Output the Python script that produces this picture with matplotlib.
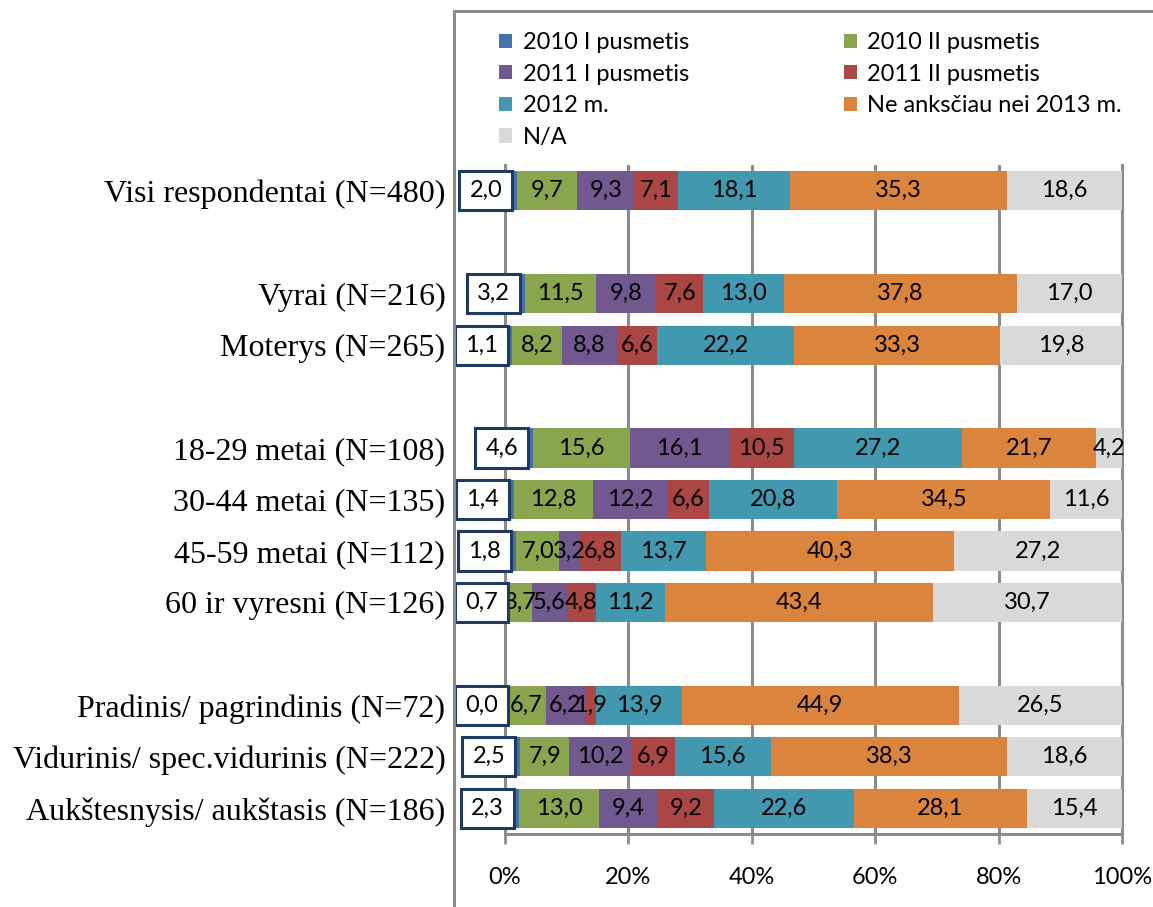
import matplotlib
matplotlib.use('Agg')
import matplotlib.pyplot as plt
from matplotlib.patches import Rectangle
from matplotlib.lines import Line2D
import numpy as np

categories = ["Visi respondentai (N=480)",
              "Vyrai (N=216)",
              "Moterys (N=265)",
              "18-29 metai (N=108)",
              "30-44 metai (N=135)",
              "45-59 metai (N=112)",
              "60 ir vyresni (N=126)",
              "Pradinis/ pagrindinis (N=72)",
              "Vidurinis/ spec.vidurinis (N=222)",
              "Aukštesnysis/ aukštasis (N=186)"]

series_names = ["2010 I pusmetis", "2010 II pusmetis", "2011 I pusmetis",
                "2011 II pusmetis", "2012 m.", "Ne anksčiau nei 2013 m.", "N/A"]

s2010_1 = [2.0, 3.2, 1.1, 4.6, 1.4, 1.8, 0.7, 0.0, 2.5, 2.3]
s2010_2 = [9.7, 11.5, 8.2, 15.6, 12.8, 7.0, 3.7, 6.7, 7.9, 13.0]
s2011_1 = [9.3, 9.8, 8.8, 16.1, 12.2, 3.2, 5.6, 6.2, 10.2, 9.4]
s2011_2 = [7.1, 7.6, 6.6, 10.5, 6.6, 6.8, 4.8, 1.9, 6.9, 9.2]
s2012 = [18.1, 13.0, 22.2, 27.2, 20.8, 13.7, 11.2, 13.9, 15.6, 22.6]
s2013 = [35.3, 37.8, 33.3, 21.7, 34.5, 40.3, 43.4, 44.9, 38.3, 28.1]
s_na = [18.6, 17.0, 19.8, 4.2, 11.6, 27.2, 30.7, 26.5, 18.6, 15.4]

colors = ["#4572A7", "#89A54E", "#71588F", "#AA4643", "#4198AF", "#DB843D", "#D9D9D9"]

# layout: slot of each row (blank slots separate the groups), 13 slots total
row_slot = [0, 2, 3, 5, 6, 7, 8, 10, 11, 12]
n_slots = 13

plt.rcParams['font.family'] = ['Lato', 'DejaVu Sans']
FS = 17

W, H = 1153, 907
fig = plt.figure(figsize=(W / 100, H / 100), dpi=100)
ax = fig.add_axes([505 / W, (H - 834) / H, (1122 - 505) / W, (834 - 165) / H])

data = np.array([s2010_1, s2010_2, s2011_1, s2011_2, s2012, s2013, s_na])
frac = data / data.sum(axis=0)
ypos = np.array(row_slot)
bar_h = 0.76

left = np.zeros(len(categories))
for i in range(len(series_names)):
    ax.barh(ypos, frac[i], left=left, height=bar_h, color=colors[i],
            label=series_names[i], zorder=3)
    if i > 0:
        for j in range(len(categories)):
            ax.text(left[j] + frac[i][j] / 2, ypos[j],
                    ("%.1f" % data[i][j]).replace(".", ","),
                    ha='center', va='center', fontsize=FS, color='black',
                    zorder=5, clip_on=False)
    left += frac[i]

# boxed labels for the first series
px = 1.0 / (1122 - 505)
box_w = 53 * px
for j in range(len(categories)):
    right = frac[0][j] - 5 * px
    bl = max(right - box_w, -50 * px)
    ax.add_patch(Rectangle((bl, ypos[j] - bar_h / 2), box_w, bar_h,
                           facecolor='white', edgecolor='#1F3B63', lw=2.2,
                           zorder=6, clip_on=False))
    ax.text(bl + box_w / 2, ypos[j], ("%.1f" % data[0][j]).replace(".", ","),
            ha='center', va='center', fontsize=FS, zorder=7, clip_on=False)

ax.set_xlim(0, 1)
ax.set_ylim(n_slots - 0.5, -0.5)
ax.set_yticks(ypos)
ax.set_yticklabels(categories, family='Liberation Serif', fontsize=23)
ax.set_xticks(np.arange(0, 1.01, 0.2))
ax.set_xticklabels(["0%", "20%", "40%", "60%", "80%", "100%"], fontsize=FS)
ax.tick_params(axis='y', length=0, pad=43)
ax.tick_params(axis='x', length=7, width=2, color='#8C8C8C', pad=17)
ax.xaxis.grid(True, color='#8C8C8C', lw=2.2, zorder=0)
ax.spines['top'].set_visible(False)
for s in ['left', 'right', 'bottom']:
    ax.spines[s].set_color('#8C8C8C')
    ax.spines[s].set_linewidth(2.2)
    ax.spines[s].set_zorder(1)

# chart area border (cropped)
fig.add_artist(Line2D([454 / W, 454 / W], [0, (H - 11) / H], color='#8C8C8C', lw=2.2))
fig.add_artist(Line2D([454 / W, 1], [(H - 11) / H, (H - 11) / H], color='#8C8C8C', lw=2.2))

handles, labels = ax.get_legend_handles_labels()
order = [0, 2, 4, 6, 1, 3, 5]
fig.legend([handles[k] for k in order], [labels[k] for k in order],
           loc='upper left', bbox_to_anchor=(499 / W, 1 - 32 / H), ncol=2,
           frameon=False, fontsize=FS, handlelength=0.55, handleheight=0.55,
           handletextpad=0.45, columnspacing=6.55, labelspacing=0.45,
           borderaxespad=0, borderpad=0)

fig.savefig("out.png", dpi=100)
